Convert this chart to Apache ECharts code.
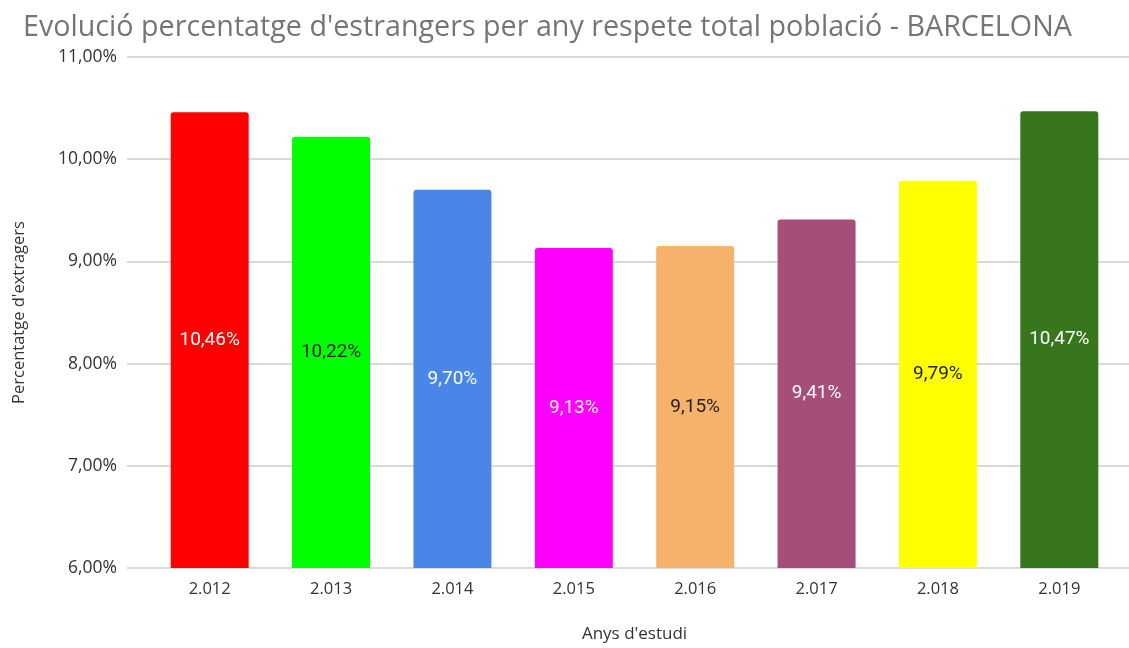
<!DOCTYPE html>
<html>
<head>
<meta charset="utf-8">
<script src="https://cdn.jsdelivr.net/npm/echarts@6/dist/echarts.min.js"></script>
<style>html,body{margin:0;padding:0;background:#fff}#c{width:1129px;height:648px}</style>
</head>
<body>
<div id="c"></div>
<script>
const categories = ['2.012','2.013','2.014','2.015','2.016','2.017','2.018','2.019'];
const values = [10.46, 10.22, 9.70, 9.13, 9.15, 9.41, 9.79, 10.47];
const barColors = ['#ff0000','#00ff00','#4a86e8','#ff00ff','#f6b26b','#a64d79','#ffff00','#38761d'];
const labelColors = ['#ffffff','#222222','#ffffff','#ffffff','#222222','#ffffff','#222222','#ffffff'];
const yMin = 6, yMax = 11, yStep = 1;

const fmt = v => v.toFixed(2).replace('.', ',') + '%';

const chart = echarts.init(document.getElementById('c'), null, {renderer: 'canvas'});
chart.setOption({
  animation: false,
  backgroundColor: '#ffffff',
  title: {
    text: "Evolució percentatge d'estrangers per any respete total població - BARCELONA",
    left: 18, top: 8,
    textStyle: {fontFamily: 'Open Sans', fontSize: 28.7, fontWeight: 'normal', color: '#757575'}
  },
  grid: [
    {left: 127, right: 0, top: 57, bottom: 80, containLabel: false},
    {left: 149, right: 9, top: 57, bottom: 80, containLabel: false}
  ],
  xAxis: [
    {gridIndex: 0, type: 'category', data: categories, show: false},
    {gridIndex: 1, type: 'category', data: categories,
     axisLine: {show: false}, axisTick: {show: false},
     axisLabel: {margin: 13, fontFamily: 'Open Sans', fontSize: 16.5, color: '#333333'},
     name: "Anys d'estudi", nameLocation: 'middle', nameGap: 58,
     nameTextStyle: {fontFamily: 'Open Sans', fontSize: 17, color: '#333333'}},
  ],
  yAxis: [
    {gridIndex: 0, type: 'value', min: yMin, max: yMax, interval: yStep,
     axisLine: {show: false}, axisTick: {show: false},
     splitLine: {lineStyle: {color: '#cccccc', width: 1.5}},
     axisLabel: {margin: 10, fontFamily: 'Open Sans', fontSize: 17.5, color: '#333333', formatter: v => fmt(v)},
     name: "Percentatge d'extragers", nameLocation: 'middle', nameGap: 99, nameRotate: 90,
     nameTextStyle: {fontFamily: 'Open Sans', fontSize: 16.5, color: '#333333'}},
    {gridIndex: 1, type: 'value', min: yMin, max: yMax, interval: yStep, show: false, splitLine: {show: false}}
  ],
  series: [{
    type: 'bar',
    xAxisIndex: 1, yAxisIndex: 1,
    barWidth: 78,
    data: values.map((v, i) => ({
      value: v,
      itemStyle: {color: barColors[i], borderRadius: [3, 3, 0, 0]},
      label: {color: labelColors[i]}
    })),
    label: {
      show: true, position: 'inside',
      fontFamily: 'Roboto', fontSize: 19,
      formatter: p => fmt(p.value)
    }
  }]
});
</script>
</body>
</html>
